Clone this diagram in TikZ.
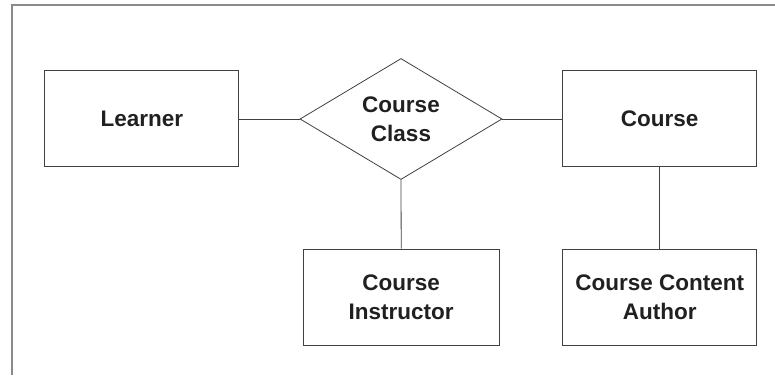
\documentclass[tikz,border=0pt]{standalone}
\usepackage{fontspec}
\setmainfont{Liberation Sans}
\usetikzlibrary{shapes.geometric}
\definecolor{edgegrey}{HTML}{404040}
\definecolor{framegrey}{HTML}{8A8A8A}
\definecolor{inkgrey}{HTML}{202020}
\begin{document}
\begin{tikzpicture}[x=1pt,y=1pt,
  entity/.style={draw=edgegrey, line width=1pt, rectangle,
    minimum width=194pt, minimum height=96pt, inner sep=0pt,
    align=center, text=inkgrey,
    font=\fontsize{22.5}{29}\selectfont\bfseries},
  relation/.style={draw=edgegrey, line width=0.8pt, diamond,
    minimum width=202pt, minimum height=121pt, aspect=1.67, inner sep=0pt,
    align=center, text=inkgrey,
    font=\fontsize{22.5}{29}\selectfont\bfseries},
  link/.style={draw=edgegrey, line width=0.8pt}]
\useasboundingbox (0,0) rectangle (775,375);
% partial outer frame
\draw[framegrey, line width=1.2pt] (12,0) -- (12,370) -- (775,370);
% entities and relationship
\node[entity] (learner) at (141.8,256) {Learner};
\node[relation] (class) at (401,256) {Course\\Class};
\node[entity] (course) at (659.7,256) {Course};
\node[entity, minimum width=195.7pt] (instructor) at (401.2,78) {Course\\Instructor};
\node[entity] (author) at (659.7,78) {Course Content\\Author};
% connectors
\draw[link] (learner.east) -- (class.west);
\draw[link] (class.east) -- (course.west);
\draw[link] (class.south) -- (instructor.north);
\draw[link] (course.south) -- (author.north);
\end{tikzpicture}
\end{document}
